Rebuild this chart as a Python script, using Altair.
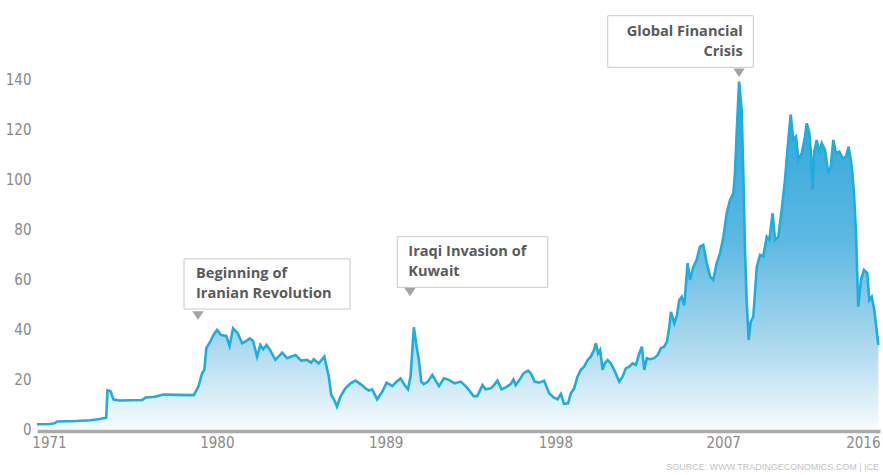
import altair as alt
import pandas as pd

# ---- price series (decimal year, USD/barrel) ----
years = [
    1970.4, 1971.1, 1971.35, 1971.5, 1972.5, 1973.3, 1973.8, 1974.15, 1974.22, 1974.38,
    1974.55, 1974.9, 1976.1, 1976.3, 1976.8, 1977.25, 1978.9, 1979.15, 1979.35, 1979.47,
    1979.58, 1979.79, 1979.97, 1980.16, 1980.38, 1980.66, 1980.84, 1981.03, 1981.28, 1981.52,
    1981.69, 1981.93, 1982.11, 1982.33, 1982.51, 1982.66, 1982.84, 1983.01, 1983.32, 1983.69,
    1983.96, 1984.41, 1984.72, 1985.04, 1985.26, 1985.4, 1985.67, 1985.98, 1986.22, 1986.35,
    1986.49, 1986.66, 1986.85, 1987.12, 1987.4, 1987.67, 1987.94, 1988.21, 1988.39, 1988.57,
    1988.84, 1989.12, 1989.35, 1989.66, 1989.89, 1990.11, 1990.33, 1990.51, 1990.65, 1990.83,
    1990.98, 1991.1, 1991.23, 1991.37, 1991.59, 1991.83, 1992.01, 1992.19, 1992.46, 1992.73,
    1993.04, 1993.37, 1993.64, 1993.82, 1994.06, 1994.27, 1994.55, 1994.72, 1995.0, 1995.18,
    1995.36, 1995.58, 1995.81, 1996.08, 1996.23, 1996.35, 1996.53, 1996.77, 1997.02, 1997.17,
    1997.38, 1997.62, 1997.89, 1998.16, 1998.4, 1998.62, 1998.8, 1998.97, 1999.19, 1999.34,
    1999.52, 1999.7, 1999.88, 2000.06, 2000.25, 2000.42, 2000.6, 2000.7, 2000.82, 2000.93,
    2001.06, 2001.18, 2001.33, 2001.51, 2001.69, 2001.96, 2002.14, 2002.32, 2002.5, 2002.69,
    2002.87, 2003.05, 2003.19, 2003.32, 2003.46, 2003.64, 2003.86, 2004.05, 2004.23, 2004.4,
    2004.55, 2004.68, 2004.77, 2004.95, 2005.09, 2005.22, 2005.35, 2005.49, 2005.67, 2005.8,
    2005.98, 2006.16, 2006.34, 2006.52, 2006.71, 2006.89, 2007.06, 2007.25, 2007.43, 2007.61,
    2007.79, 2007.97, 2008.15, 2008.24, 2008.33, 2008.46, 2008.6, 2008.69, 2008.78, 2008.87,
    2008.98, 2009.09, 2009.23, 2009.42, 2009.6, 2009.77, 2009.96, 2010.1, 2010.28, 2010.41,
    2010.59, 2010.77, 2010.95, 2011.13, 2011.26, 2011.4, 2011.55, 2011.67, 2011.86, 2012.03,
    2012.13, 2012.27, 2012.34, 2012.45, 2012.52, 2012.67, 2012.81, 2012.94, 2013.12, 2013.3,
    2013.43, 2013.57, 2013.71, 2013.89, 2014.08, 2014.26, 2014.4, 2014.57, 2014.69, 2014.8,
    2014.92, 2015.07, 2015.23, 2015.41, 2015.52, 2015.65, 2015.79, 2016.01,
]
prices = [
    1.9, 2.0, 2.3, 3.0, 3.2, 3.5, 4.0, 4.5, 15.5, 15.2,
    11.8, 11.4, 11.6, 12.6, 12.9, 13.8, 13.6, 17.0, 22.3, 23.7,
    32.4, 35.0, 37.7, 39.7, 37.7, 37.3, 33.3, 40.4, 38.4, 34.4,
    35.0, 36.3, 35.4, 29.0, 33.7, 32.0, 33.7, 32.0, 27.7, 30.6,
    28.4, 29.7, 27.4, 27.7, 26.6, 28.0, 26.3, 29.0, 21.0, 13.6,
    12.0, 9.0, 13.0, 16.3, 18.3, 19.4, 18.0, 16.3, 15.4, 15.9,
    11.9, 15.0, 18.6, 17.2, 19.0, 20.3, 17.6, 15.9, 21.0, 40.8,
    33.0, 27.7, 19.0, 18.0, 19.0, 21.7, 19.4, 17.2, 20.3, 19.7,
    18.3, 19.0, 17.2, 15.6, 13.2, 13.2, 17.6, 15.9, 16.3, 17.6,
    19.4, 15.9, 16.7, 18.0, 19.9, 17.6, 19.4, 22.3, 23.4, 22.3,
    19.0, 18.6, 19.4, 14.3, 12.7, 11.9, 14.0, 10.1, 10.3, 14.3,
    16.3, 21.0, 23.7, 25.0, 27.7, 29.0, 31.7, 34.4, 30.3, 31.7,
    23.7, 26.3, 27.7, 26.3, 23.7, 19.0, 21.0, 24.3, 25.0, 26.3,
    25.7, 30.3, 33.0, 23.7, 28.4, 28.0, 28.4, 29.7, 32.4, 33.0,
    35.0, 41.0, 47.0, 42.4, 45.7, 51.7, 53.0, 49.7, 66.5, 59.8,
    65.0, 67.8, 73.1, 73.8, 66.5, 61.1, 59.8, 66.5, 70.5, 77.1,
    86.5, 91.8, 94.5, 102.6, 118.6, 139.3, 128.0, 102.6, 71.8, 51.7,
    35.7, 43.0, 45.0, 65.1, 69.8, 69.2, 77.1, 75.8, 86.5, 75.8,
    77.1, 87.8, 99.9, 115.9, 126.0, 115.9, 117.2, 107.9, 110.6, 117.2,
    122.6, 118.6, 111.9, 95.9, 110.6, 115.9, 110.6, 114.6, 111.9, 102.6,
    105.2, 115.9, 110.6, 111.2, 108.6, 109.2, 113.2, 105.2, 94.5, 78.5,
    49.0, 59.8, 63.8, 62.5, 51.7, 53.0, 47.7, 33.7,
]

# ---- axes ----
y_ticks = [0, 20, 40, 60, 80, 100, 120, 140]
x_tick_positions = [1971.05, 1980.15, 1989.3, 1998.5, 2007.6, 2016.1]

# ---- annotations ----
box_x = [1978.37, 1989.93, 2001.34]
box_x2 = [1987.37, 1998.09, 2009.23]
box_top = [68.2, 77.1, 165.7]
box_bottom = [48.1, 56.8, 145.0]
pointer_x = [1979.13, 1990.62, 2008.46]
pointer_y = [45.5, 54.9, 142.8]

left_lines = ["Beginning of", "Iranian Revolution", "Iraqi Invasion of", "Kuwait"]
left_x = [1979.02, 1979.02, 1990.53, 1990.53]
left_y = [60.5, 52.4, 69.3, 61.2]
right_lines = ["Global Financial", "Crisis"]
right_x = [2008.66, 2008.66]
right_y = [157.6, 149.5]

source_text = "SOURCE: WWW.TRADINGECONOMICS.COM  |  ICE"

AXIS_FONT = "Liberation Sans Narrow, DejaVu Sans Condensed, Liberation Sans"
NOTE_FONT = "Open Sans, Lato, Liberation Sans"

xscale = alt.Scale(domain=[1970.4, 2016.1], nice=False, zero=False)
yscale = alt.Scale(domain=[0, 172], nice=False, zero=True)

series = pd.DataFrame({"year": years, "price": prices})
boxes = pd.DataFrame({"bx": box_x, "bx2": box_x2, "by": box_top, "by2": box_bottom})
pointers = pd.DataFrame({"px": pointer_x, "py": pointer_y})
left_df = pd.DataFrame({"tx": left_x, "ty": left_y, "t": left_lines})
right_df = pd.DataFrame({"tx": right_x, "ty": right_y, "t": right_lines})

x_axis = alt.Axis(
    values=x_tick_positions,
    labelExpr="'' + floor(datum.value)",
    grid=False, ticks=False, tickSize=0, domain=True,
    domainColor="#ababab", domainWidth=3.5, offset=2,
    labelPadding=4, labelFlush=True, labelFont=AXIS_FONT, labelFontSize=15,
    labelColor="#8a8a8a", title=None,
)
y_axis = alt.Axis(
    values=y_ticks, grid=False, ticks=False, tickSize=0, domain=False,
    labelPadding=6, labelFont=AXIS_FONT, labelFontSize=15,
    labelColor="#8a8a8a", title=None,
)

gradient = alt.Gradient(
    gradient="linear",
    stops=[
        alt.GradientStop(color="#27a3da", offset=0),
        alt.GradientStop(color="#5bb8e2", offset=0.45),
        alt.GradientStop(color="#a9d7ed", offset=0.75),
        alt.GradientStop(color="#f6fbfe", offset=1),
    ],
    x1=0, x2=0, y1=0, y2=1,
)


def xenc(field):
    return alt.X(field, scale=xscale, axis=x_axis)


def yenc(field):
    return alt.Y(field, scale=yscale, axis=y_axis)


area = alt.Chart(series).mark_area(fill=gradient, line=False).encode(
    x=xenc("year:Q"), y=yenc("price:Q"),
)
line = alt.Chart(series).mark_line(color="#1fadde", strokeWidth=2.6).encode(
    x=xenc("year:Q"), y=yenc("price:Q"),
)
rects = alt.Chart(boxes).mark_rect(fill="white", stroke="#c9c9c9", strokeWidth=1).encode(
    x=xenc("bx:Q"), x2="bx2:Q", y=yenc("by:Q"), y2="by2:Q",
)
tri = alt.Chart(pointers).mark_point(
    shape="M-1,-0.75L1,-0.75L0,0.75Z", filled=True, size=130,
    color="#a3a3a3", opacity=1, strokeWidth=0,
).encode(
    x=xenc("px:Q"), y=yenc("py:Q"),
)
ltext = alt.Chart(left_df).mark_text(
    align="left", baseline="alphabetic", font=NOTE_FONT, fontSize=14.6,
    fontWeight="bold", color="#5a5a5a",
).encode(
    x=xenc("tx:Q"), y=yenc("ty:Q"), text="t:N",
)
rtext = alt.Chart(right_df).mark_text(
    align="right", baseline="alphabetic", font=NOTE_FONT, fontSize=14.6,
    fontWeight="bold", color="#5a5a5a",
).encode(
    x=xenc("tx:Q"), y=yenc("ty:Q"), text="t:N",
)
source = alt.Chart(alt.Data(values=[{"s": source_text}])).mark_text(
    align="right", baseline="middle", font="Liberation Sans", fontSize=9,
    color="#c4c4c4",
).encode(
    x=alt.value(842), y=alt.value(467), text="s:N",
)

chart = alt.layer(area, line, rects, tri, ltext, rtext, source).properties(
    width=843, height=429,
    autosize=alt.AutoSizeParams(type="none"),
    padding={"left": 37, "top": 0, "right": 3, "bottom": 46},
    background="white",
).configure_view(stroke=None)

chart.save("out.html", embed_options={"renderer": "svg", "actions": False})
